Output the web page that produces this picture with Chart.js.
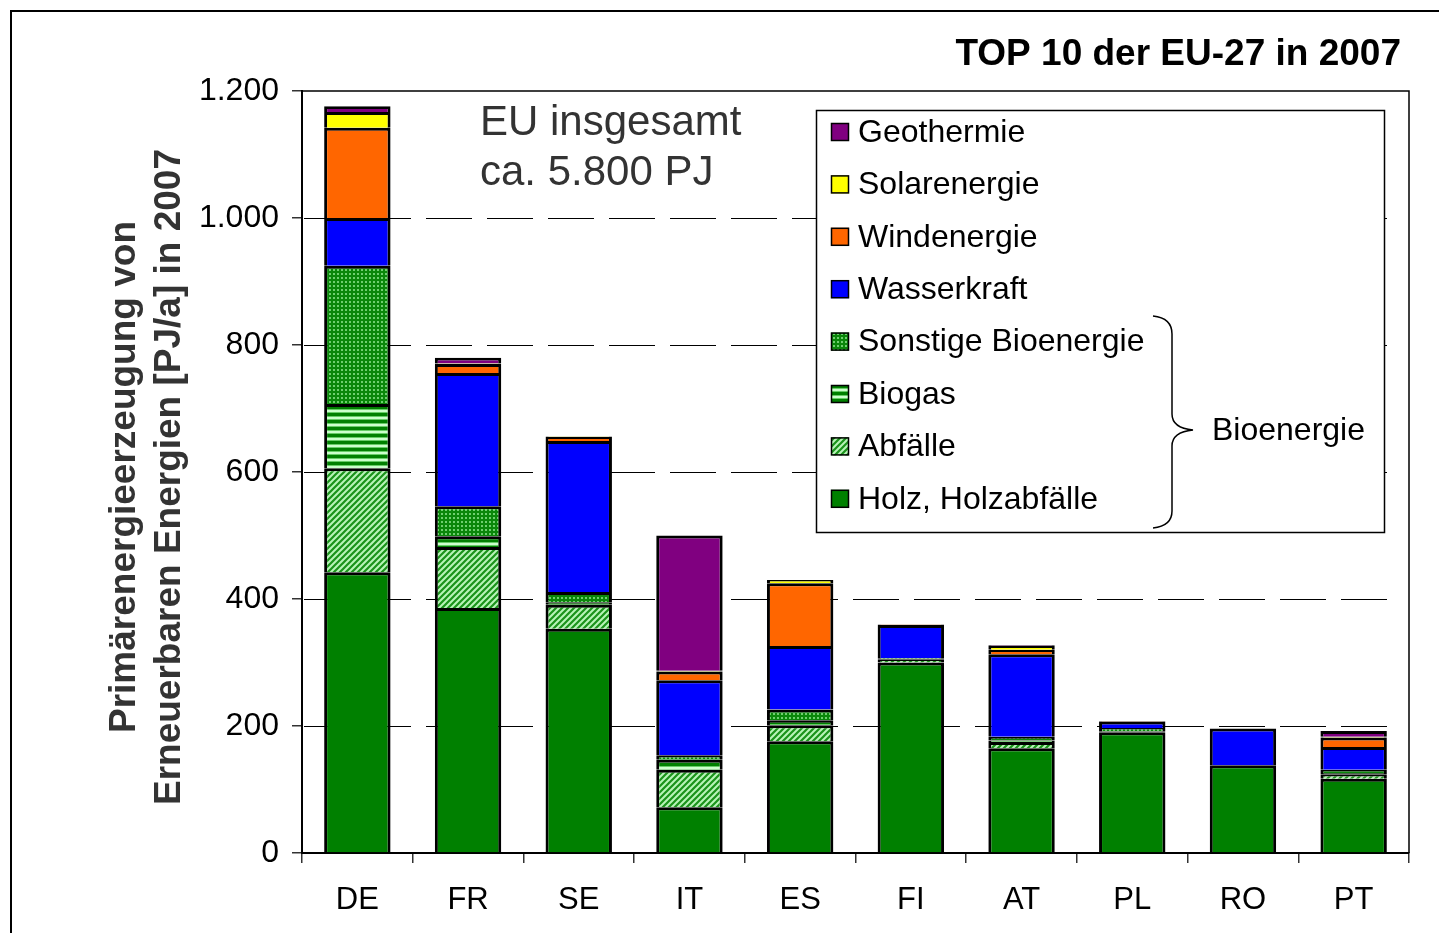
<!DOCTYPE html>
<html><head><meta charset="utf-8">
<script src="https://cdn.jsdelivr.net/npm/chart.js@4"></script>
<style>html,body{margin:0;padding:0;background:#fff}canvas{display:block}</style>
</head><body>
<canvas id="c" width="1439" height="933"></canvas>
<script>
// ---- data (PJ/a) ----
const countries = ['DE','FR','SE','IT','ES','FI','AT','PL','RO','PT'];
const holz      = [442, 386, 353,  72, 176, 300, 165, 190, 138, 117];
const abfaelle  = [164,  96,  38,  59,  25,   5,  10,   1,   0,   7];
const biogas    = [101,  17,   4,  16,   8,   1,   2,   1,   0,   2];
const sonstige  = [218,  47,  16,   7,  17,   1,   6,   5,   0,   5];
const wasser    = [ 75, 210, 238, 118, 100,  52, 130,  10,  58,  36];
const wind      = [142,  14,   6,  14,  99,   1,   7,   1,   0,  15];
const solar     = [ 25,   1,   1,   1,   5,   0,   6,   0,   0,   1];
const geo       = [  9,   9,   0, 213,   0,   0,   1,   0,   0,   9];
const seriesNames = ['Holz, Holzabfälle','Abfälle','Biogas','Sonstige Bioenergie','Wasserkraft','Windenergie','Solarenergie','Geothermie'];
const yTickValues = [0, 200, 400, 600, 800, 1000, 1200];
const titleText = 'TOP 10 der EU-27 in 2007';
const noteLines = ['EU insgesamt', 'ca. 5.800 PJ'];
const yTitleLines = ['Primärenergieerzeugung von', 'Erneuerbaren Energien [PJ/a] in 2007'];
const braceLabel = 'Bioenergie';

const FONT = '"Liberation Sans", Arial, sans-serif';
const canvas = document.getElementById('c');
const ctx0 = canvas.getContext('2d');

function makePattern(w, h, draw) {
  const c = document.createElement('canvas');
  c.width = w; c.height = h;
  const g = c.getContext('2d');
  draw(g, w, h);
  return ctx0.createPattern(c, 'repeat');
}
const patSonstige = makePattern(4, 4, (g) => {
  g.fillStyle = '#0a870a'; g.fillRect(0, 0, 4, 4);
  g.fillStyle = '#6fcf6f'; g.fillRect(1, 1, 2, 2);
});
const patBiogas = makePattern(4, 7, (g) => {
  g.fillStyle = '#008000'; g.fillRect(0, 0, 4, 3);
  g.fillStyle = '#66cc66'; g.fillRect(0, 3, 4, 1);
  g.fillStyle = '#ccffcc'; g.fillRect(0, 4, 4, 2);
  g.fillStyle = '#66cc66'; g.fillRect(0, 6, 4, 1);
});
const patAbfaelle = makePattern(6, 6, (g) => {
  g.fillStyle = '#b8f4b8'; g.fillRect(0, 0, 6, 6);
  g.strokeStyle = '#1a931a'; g.lineWidth = 2.2;
  g.beginPath();
  g.moveTo(-1, 1); g.lineTo(1, -1);
  g.moveTo(0, 6); g.lineTo(6, 0);
  g.moveTo(5, 7); g.lineTo(7, 5);
  g.stroke();
});

const seriesValues = [holz, abfaelle, biogas, sonstige, wasser, wind, solar, geo];
const seriesFills = ['#008000', patAbfaelle, patBiogas, patSonstige, '#0000ff', '#ff6600', '#ffff00', '#800080'];

const datasets = seriesValues.map((vals, i) => ({
  label: seriesNames[i],
  data: vals,
  backgroundColor: seriesFills[i],
  borderColor: '#000',
  borderWidth: 3,
  barPercentage: 0.6,
  categoryPercentage: 1.0
}));

function fmt(v) { return String(v).replace(/\B(?=(\d{3})+(?!\d))/g, '.'); }

const decor = {
  id: 'decor',
  beforeDraw(chart) {
    const c = chart.ctx;
    c.save();
    c.strokeStyle = '#000'; c.lineWidth = 2;
    c.beginPath();
    c.moveTo(11, 933); c.lineTo(11, 11); c.lineTo(1439, 11);
    c.stroke();
    c.restore();
  },
  beforeDatasetsDraw(chart) {
    const c = chart.ctx, a = chart.chartArea, y = chart.scales.y;
    c.save();
    c.strokeStyle = '#000'; c.lineWidth = 1;
    c.setLineDash([46, 15]);
    yTickValues.forEach(v => {
      if (v <= 0 || v >= 1200) return;
      const py = Math.round(y.getPixelForValue(v)) + 0.5;
      c.beginPath();
      c.moveTo(a.left + 2, py); c.lineTo(a.right - 15, py);
      c.stroke();
    });
    c.restore();
  },
  afterDraw(chart) {
    const c = chart.ctx, a = chart.chartArea;
    c.save();
    // plot frame top/right
    c.strokeStyle = '#000'; c.lineWidth = 1.5;
    c.beginPath();
    c.moveTo(a.left, a.top); c.lineTo(a.right, a.top); c.lineTo(a.right, a.bottom);
    c.stroke();

    // title
    c.fillStyle = '#000';
    c.font = 'bold 37px ' + FONT;
    c.textAlign = 'right'; c.textBaseline = 'middle';
    c.fillText(titleText, 1401, 55);

    // note
    c.fillStyle = '#333';
    c.font = '42px ' + FONT;
    c.textAlign = 'left';
    c.fillText(noteLines[0], 480, 123);
    c.fillText(noteLines[1], 480, 173);

    // y title
    c.fillStyle = '#333';
    c.font = 'bold 37px ' + FONT;
    c.textAlign = 'center';
    [[125, yTitleLines[0]], [170, yTitleLines[1]]].forEach(([x, t]) => {
      c.save();
      c.translate(x, 477);
      c.rotate(-Math.PI / 2);
      c.fillText(t, 0, 0);
      c.restore();
    });

    // legend box
    c.fillStyle = '#fff';
    c.fillRect(816, 110, 569, 423);
    c.strokeStyle = '#000'; c.lineWidth = 1.5;
    c.strokeRect(816.5, 110.5, 568, 422);
    const order = chart.data.datasets.map((d, i) => i).reverse();
    c.font = '32px ' + FONT;
    c.textAlign = 'left'; c.textBaseline = 'middle';
    order.forEach((di, k) => {
      const ds = chart.data.datasets[di];
      const cy = 132 + k * 52.4;
      c.fillStyle = ds.backgroundColor;
      c.fillRect(831, cy - 9, 18, 18);
      c.strokeStyle = '#000'; c.lineWidth = 1.5;
      c.strokeRect(831.5, cy - 8.5, 17, 17);
      c.fillStyle = '#000';
      c.fillText(ds.label, 858, cy + 1);
    });

    // brace
    c.strokeStyle = '#000'; c.lineWidth = 1.5;
    c.beginPath();
    c.moveTo(1153, 316);
    c.quadraticCurveTo(1172, 318, 1172, 334);
    c.lineTo(1172, 414);
    c.quadraticCurveTo(1172, 428, 1193, 430);
    c.quadraticCurveTo(1172, 432, 1172, 446);
    c.lineTo(1172, 511);
    c.quadraticCurveTo(1172, 526, 1153, 528);
    c.stroke();
    c.fillStyle = '#000';
    c.fillText(braceLabel, 1212, 431);
    c.restore();
  }
};

new Chart(canvas, {
  type: 'bar',
  data: { labels: countries, datasets },
  options: {
    responsive: false,
    animation: false,
    devicePixelRatio: 1,
    layout: { padding: { top: 91, right: 30, left: 0, bottom: 0 } },
    plugins: { legend: { display: false }, tooltip: { enabled: false } },
    scales: {
      x: {
        stacked: true,
        offset: true,
        grid: { display: true, offset: true, drawOnChartArea: false, drawTicks: true, tickLength: 10, color: '#333', lineWidth: 1.5 },
        border: { display: true, color: '#000', width: 2 },
        ticks: { color: '#000', font: { family: FONT, size: 31 }, padding: 19, maxRotation: 0, autoSkip: false },
        afterFit(s) { s.height = 80; }
      },
      y: {
        stacked: true,
        min: 0, max: 1200,
        afterBuildTicks(s) { s.ticks = yTickValues.map(v => ({ value: v })); },
        grid: { display: true, drawOnChartArea: false, drawTicks: true, tickLength: 10, color: '#333', lineWidth: 1.5 },
        border: { display: true, color: '#000', width: 2 },
        ticks: { color: '#000', font: { family: FONT, size: 32 }, padding: 13, callback: (v) => fmt(v) },
        afterFit(s) { s.width = 302; }
      }
    }
  },
  plugins: [decor]
});
</script>
</body></html>
